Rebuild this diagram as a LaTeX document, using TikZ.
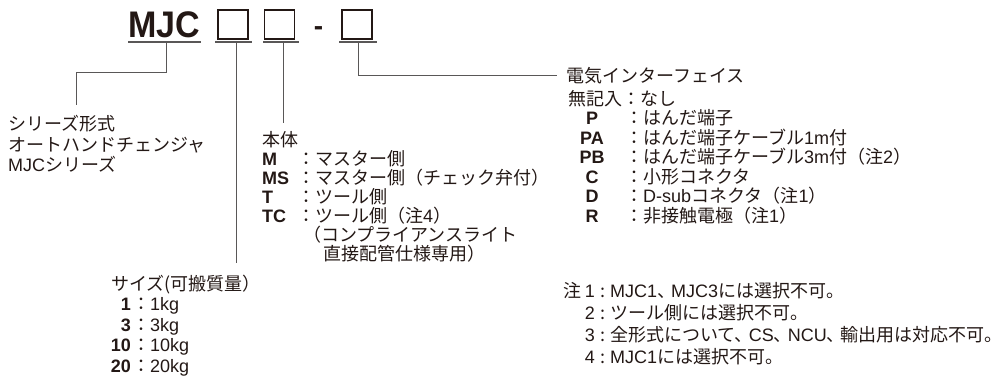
\documentclass[tikz,border=0pt]{standalone}
\usepackage{fontspec}
\setmainfont{Liberation Sans}
\newfontfamily\jpfont{Noto Sans CJK JP}
\newfontfamily\latfont{Liberation Sans}
\newcommand{\latn}[1]{{\latfont #1}}
\newcommand{\tk}{、\kern-4pt}
\definecolor{ink}{HTML}{231815}
\definecolor{wire}{HTML}{595757}
\tikzset{
  % japanese body text
  jp/.style   = {font=\jpfont\fontsize{18}{19}\selectfont, text=ink,
                 inner sep=0pt, anchor=base west},
  % bold option code
  code/.style = {font=\bfseries\fontsize{18}{20}\selectfont, text=ink,
                 inner sep=0pt},
  % empty slot of the model number
  slot/.style = {draw=ink, line width=1.1pt, minimum width=30pt,
                 minimum height=29pt, inner sep=0pt},
  % underline below a slot
  ul/.style   = {draw=wire, line width=1.6pt},
  % leader line
  lead/.style = {draw=wire, line width=0.9pt},
}

\begin{document}
\begin{tikzpicture}[x=1pt, y=-1pt]
  \useasboundingbox (0,0) rectangle (1008,381);
  % model number
  \node[code, font=\bfseries\fontsize{37}{37}\selectfont, anchor=base west]
    (mjc) at (128,37) {\scalebox{0.92}[1]{MJC}};
  \node[slot] (b1) at (233,24.5) {};
  \node[slot] (b2) at (279.5,24.5) {};
  \node[code, font=\bfseries\fontsize{28}{28}\selectfont, anchor=base]
    (dash) at (318.5,35) {-};
  \node[slot] (b3) at (357,24.5) {};
  \draw[ul] (128,42) -- (201,42);
  \draw[ul] (215,42) -- (252,42);
  \draw[ul] (263,42) -- (299,42);
  \draw[ul] (339,42) -- (377,42);
  \coordinate (mjcU) at (166,42);
  \coordinate (b1U)  at (236,42);
  \coordinate (b2U)  at (283,42);
  \coordinate (b3U)  at (358,42);

  % series
  \node[jp] (ser1) at (8,130) {シリーズ形式};
  \node[jp] (ser2) at (8,151) {オートハンドチェンジャ};
  \node[jp] (ser3) at (8,171.5) {\latn{MJC}シリーズ};
  \coordinate (serE) at (76,105);

  % size
  \node[jp] (siz) at (111,290) {サイズ(可搬質量）};
  \foreach \k/\t [count=\i] in {1/1kg, 3/3kg, 10/10kg, 20/20kg}
    { \node[code, anchor=base east] (sk\i) at (131,290+20.5*\i) {\k};
      \node[jp] (st\i) at (132,290+20.5*\i) {：\latn{\t}}; }
  \coordinate (sizE) at (236,263);

  % body
  \node[jp] (bod) at (262,146) {本体};
  \foreach \k/\t [count=\i] in {M/マスター側, MS/マスター側（チェック弁付）,
                                 T/ツール側, TC/ツール側（注\latn{4}）}
    { \node[code, anchor=base west] (bk\i) at (262,146+19*\i) {\k};
      \node[jp] (bt\i) at (297,146+19*\i) {：\t}; }
  \node[jp] (bt5) at (303,241) {（コンプライアンスライト};
  \node[jp] (bt6) at (323,260) {直接配管仕様専用）};
  \coordinate (bodE) at (283,123);

  % electric interface
  \node[jp] (ei)  at (566,82)  {電気インターフェイス};
  \node[jp] (en)  at (568,105) {無記入};
  \node[jp] (ent) at (622,105) {：なし};
  \foreach \k/\t [count=\i] in {P/はんだ端子, PA/はんだ端子ケーブル\latn{1m}付,
                                 PB/はんだ端子ケーブル\latn{3m}付（注\latn{2}）,
                                 C/小形コネクタ,
                                 D/\latn{D-sub}コネクタ（注\latn{1}）,
                                 R/非接触電極（注\latn{1}）}
    { \node[code, anchor=base] (ek\i) at (592,105+19.5*\i) {\k};
      \node[jp] (et\i) at (625,105+19.5*\i) {：\t}; }

  % notes
  \foreach \k/\t [count=\i] in {注\,\latn{1}/\latn{MJC1}\tk\latn{MJC3}には選択不可。,
                                 \latn{2}/ツール側には選択不可。,
                                 \latn{3}/全形式について\tk\latn{CS}\tk\latn{NCU}\tk 輸出用は対応不可。,
                                 \latn{4}/\latn{MJC1}には選択不可。}
    { \node[jp, anchor=base east] (nk\i) at (595,275+22*\i) {\k};
      \node[jp] (nt\i) at (595,275+22*\i) {\kern5pt:\kern5pt\t}; }

  % leaders
  \draw[lead] (mjcU) -- ++(0,30) -| (serE);
  \draw[lead] (b1U) -- (sizE);
  \draw[lead] (b2U) -- (bodE);
  \draw[lead] (b3U) |- ([xshift=-9pt]ei.west);
\end{tikzpicture}
\end{document}
